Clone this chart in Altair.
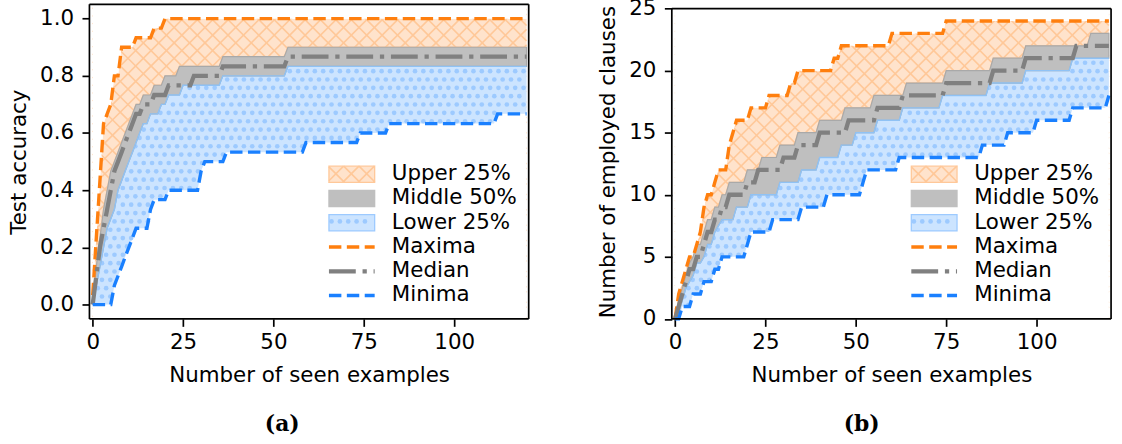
import altair as alt
import numpy as np
import pandas as pd

# number of seen examples
SEEN = np.arange(0, 121)

# ---- test accuracy (fraction of 30 test items) ----
# each series: example counts at which the level changes, and the level reached there
acc_max_at = [0, 1, 2, 3, 4, 5, 6, 8, 12, 17, 20]
acc_max = [0.033, 0.233, 0.433, 0.633, 0.667, 0.7, 0.8, 0.9, 0.933, 0.967, 1.0]
acc_q3_at = [0, 1, 2, 3, 4, 5, 6, 7, 8, 9, 10, 11, 12, 14, 17, 20, 24, 36, 54]
acc_q3 = [0.0, 0.133, 0.233, 0.333, 0.4, 0.467, 0.5, 0.533, 0.567, 0.6, 0.633, 0.667, 0.7,
          0.733, 0.767, 0.8, 0.833, 0.867, 0.9]
acc_med_at = [0, 1, 2, 3, 4, 5, 6, 7, 8, 9, 10, 11, 12, 14, 17, 21, 28, 36, 54]
acc_med = [0.0, 0.1, 0.2, 0.267, 0.333, 0.4, 0.467, 0.5, 0.533, 0.567, 0.6, 0.633, 0.667,
           0.7, 0.733, 0.767, 0.8, 0.833, 0.867]
acc_q1_at = [0, 1, 2, 3, 4, 5, 6, 7, 8, 9, 10, 11, 12, 13, 14, 16, 19, 21, 25, 36, 54]
acc_q1 = [0.0, 0.067, 0.133, 0.2, 0.267, 0.3, 0.333, 0.4, 0.433, 0.467, 0.5, 0.533, 0.567,
          0.6, 0.633, 0.667, 0.7, 0.733, 0.767, 0.8, 0.833]
acc_min_at = [0, 6, 7, 8, 9, 10, 11, 12, 16, 17, 21, 30, 31, 37, 59, 74, 82, 112]
acc_min = [0.0, 0.067, 0.1, 0.133, 0.167, 0.2, 0.233, 0.267, 0.333, 0.367, 0.4, 0.467, 0.5,
           0.533, 0.567, 0.6, 0.633, 0.667]

# ---- number of employed clauses ----
cl_max_at = [0, 1, 2, 3, 4, 6, 7, 8, 9, 11, 12, 15, 16, 17, 21, 26, 32, 34, 44, 46, 60, 75]
cl_max = [0, 2, 3, 4, 5, 6, 7, 9, 10, 11, 12, 14, 15, 16, 17, 18, 19, 20, 21, 22, 23, 24]
cl_q3_at = [0, 1, 2, 3, 4, 5, 6, 8, 9, 11, 13, 15, 20, 24, 29, 34, 40, 47, 55, 64, 75, 88, 97, 115]
cl_q3 = [0, 1.5, 2.5, 3.5, 4.5, 5, 6, 7, 8, 9, 10, 11, 12, 13, 14, 15, 16, 17, 18, 19, 20,
         21, 22, 23]
cl_med_at = [0, 1, 2, 3, 4, 6, 8, 9, 11, 13, 15, 20, 23, 30, 34, 40, 48, 56, 63, 75, 88, 97, 111]
cl_med = [0, 1, 2, 3, 4, 5, 6, 7, 8, 9, 10, 11, 12, 13, 14, 15, 16, 17, 18, 19, 20, 21, 22]
cl_q1_at = [0, 1, 2, 3, 4, 5, 6, 8, 9, 11, 12, 13, 17, 21, 29, 35, 40, 46, 50, 56, 63, 74, 87,
            97, 110]
cl_q1 = [0, 0.5, 1.5, 2.5, 3, 3.5, 4.5, 5, 6, 7, 7.5, 8, 9, 10, 11, 12, 13, 14, 15, 16, 17,
         18, 19, 20, 21]
cl_min_at = [0, 2, 5, 8, 11, 13, 20, 21, 27, 35, 42, 52, 53, 62, 85, 92, 100, 110, 120]
cl_min = [0, 1, 2, 3, 4, 5, 6, 7, 8, 9, 10, 11, 12, 13, 14, 15, 16, 17, 18]

LEGEND_LABELS = ["Upper 25%", "Middle 50%", "Lower 25%", "Maxima", "Median", "Minima"]

# ---- styling ----
FONT = "DejaVu Sans"
FS = 21.5
W, H = 442, 316.5
X_DOMAIN = [-0.9, 120.6]
ORANGE = "#ff7f0e"
BLUE = "#1a80ff"
GRAY = "#808080"
ORANGE_FILL = "#ffe3cc"
ORANGE_HATCH = "#ffc899"
BLUE_FILL = "#cce4ff"
BLUE_DOT = "#9dcaff"
GRAY_FILL = "#bfbfbf"
HATCH_STEP = 15.5
DOT_STEP = 8.4
DASH = [12.5, 5.5]
DASH_DOT = [27, 6.8, 4.3, 6.8]


def level(at, vals):
    idx = np.searchsorted(np.asarray(at), SEEN, side="right") - 1
    return np.asarray(vals, dtype=float)[idx]


def cross_hatch(x0, x1, y0, y1, step):
    """Diagonal cross-hatch segments (screen space) inside a rectangle."""
    segs = []
    for c in np.arange(np.floor((x0 - y1) / step) * step, x1 - y0 + step, step):
        a, b = max(x0, c + y0), min(x1, c + y1)
        if a < b:
            segs.append((a, a - c, b, b - c))
    for c in np.arange(np.floor((x0 + y0) / step) * step, x1 + y1 + step, step):
        a, b = max(x0, c - y1), min(x1, c - y0)
        if a < b:
            segs.append((a, c - a, b, c - b))
    return pd.DataFrame(segs, columns=["hx", "hy", "hx2", "hy2"])


def dot_grid(x0, x1, y0, y1, step):
    pts = []
    for k, yy in enumerate(np.arange(0, y1 + step, step)):
        off = (k % 2) * step / 2
        for xx in np.arange(off, x1 + step, step):
            if x0 <= xx <= x1 and y0 <= yy <= y1:
                pts.append((xx, yy))
    return pd.DataFrame(pts, columns=["dx", "dy"])


def panel(series, ydom, yvalues, yfmt, ytitle, frame_top, caption, cap_dx):
    mx, q3, med, q1, mn = (level(a, v) for a, v in series)
    df = pd.DataFrame({"seen": SEEN, "mx": mx, "q3": q3, "med": med, "q1": q1, "mn": mn})

    span_x = X_DOMAIN[1] - X_DOMAIN[0]
    span_y = ydom[1] - ydom[0]

    def sx(v):
        return (np.asarray(v, float) - X_DOMAIN[0]) / span_x * W

    def sy(v):
        return H * (1 - (np.asarray(v, float) - ydom[0]) / span_y)

    top_px = float(sy(frame_top))
    xl, xr = float(sx(SEEN[0])), float(sx(SEEN[-1]))

    xscale = alt.Scale(domain=X_DOMAIN, nice=False, zero=False)
    yscale = alt.Scale(domain=ydom, nice=False, zero=False)
    X = alt.X("seen:Q", scale=xscale,
              axis=alt.Axis(values=[0, 25, 50, 75, 100], format="d",
                            title="Number of seen examples", labelPadding=5,
                            titlePadding=12, labelFlush=False))

    def Y(f):
        return alt.Y(f + ":Q", scale=yscale,
                     axis=alt.Axis(values=yvalues, format=yfmt, title=ytitle,
                                   labelPadding=8.5, titlePadding=9, labelFlush=False))

    def PX(f):
        return alt.X(f + ":Q", scale=None)

    def PY(f):
        return alt.Y(f + ":Q", scale=None)

    base = alt.Chart(df)

    # upper band: tinted fill with diagonal cross-hatch, trimmed by white covers
    upper = base.mark_area(color=ORANGE_FILL).encode(x=X, y=Y("mx"), y2="q3:Q")
    hatch = alt.Chart(cross_hatch(xl, xr, top_px, H, HATCH_STEP)).mark_rule(
        color=ORANGE_HATCH, strokeWidth=1.6, clip=True
    ).encode(x=PX("hx"), y=PY("hy"), x2="hx2:Q", y2="hy2:Q")
    cover_top = base.mark_area(color="white").encode(
        x=X, y=Y("mx"), y2=alt.datum(ydom[1]))
    cover_low = base.mark_area(color="white").encode(
        x=X, y=Y("q3"), y2=alt.datum(ydom[0]))
    upper_edge = base.mark_line(color=ORANGE_HATCH, strokeWidth=1.4).encode(x=X, y=Y("q3"))

    # lower band: tinted fill with a staggered dot pattern
    lower = base.mark_area(color=BLUE_FILL).encode(x=X, y=Y("q1"), y2="mn:Q")
    dots = dot_grid(xl, xr, top_px, H, DOT_STEP)
    xd = X_DOMAIN[0] + dots["dx"] / W * span_x
    hi = sy(np.interp(xd, SEEN, q1))
    lo = sy(np.interp(xd, SEEN, mn))
    dots = dots[(dots["dy"] > hi + 1.5) & (dots["dy"] < lo - 1.5)]
    dot_layer = alt.Chart(dots).mark_circle(color=BLUE_DOT, size=22, opacity=1).encode(
        x=PX("dx"), y=PY("dy"))

    middle = base.mark_area(color=GRAY_FILL, stroke="#a9a9a9", strokeWidth=1.2).encode(
        x=X, y=Y("q3"), y2="q1:Q")
    lower_edge = base.mark_line(color="#8fc2f5", strokeWidth=1.4).encode(x=X, y=Y("q1"))

    line_max = base.mark_line(color=ORANGE, strokeWidth=3.4, strokeDash=DASH).encode(
        x=X, y=Y("mx"))
    line_med = base.mark_line(color=GRAY, strokeWidth=4.3, strokeDash=DASH_DOT).encode(
        x=X, y=Y("med"))
    line_min = base.mark_line(color=BLUE, strokeWidth=3.4, strokeDash=DASH).encode(
        x=X, y=Y("mn"))

    one = pd.DataFrame({"k": [0]})
    frame = [
        alt.Chart(one).mark_rule(color="black", strokeWidth=1.7).encode(
            x=alt.value(0), x2=alt.value(W), y=alt.value(top_px)),
        alt.Chart(one).mark_rule(color="black", strokeWidth=1.7).encode(
            x=alt.value(0), x2=alt.value(W), y=alt.value(H)),
        alt.Chart(one).mark_rule(color="black", strokeWidth=1.7).encode(
            x=alt.value(0), y=alt.value(top_px), y2=alt.value(H)),
        alt.Chart(one).mark_rule(color="black", strokeWidth=1.7).encode(
            x=alt.value(W), y=alt.value(top_px), y2=alt.value(H)),
    ]

    # legend, anchored to the lower-right corner of the plot
    row_y = [H - 23.5 - 24.4 * (5 - i) for i in range(6)]
    hx0, hx1 = W - 201, W - 155
    legend = []
    for i, (fill, edge) in enumerate([(ORANGE_FILL, ORANGE_HATCH), (GRAY_FILL, GRAY_FILL),
                                      (BLUE_FILL, BLUE_DOT)]):
        y0, y1 = row_y[i] - 8.2, row_y[i] + 8.2
        legend.append(alt.Chart(one).mark_rect(color=fill).encode(
            x=alt.value(hx0), x2=alt.value(hx1), y=alt.value(y0), y2=alt.value(y1)))
        if i == 0:
            legend.append(alt.Chart(cross_hatch(hx0, hx1, y0, y1, HATCH_STEP)).mark_rule(
                color=ORANGE_HATCH, strokeWidth=1.6).encode(
                x=PX("hx"), y=PY("hy"), x2="hx2:Q", y2="hy2:Q"))
        if i == 2:
            pd_dots = dot_grid(hx0 + 2, hx1 - 2, y0 + 2, y1 - 2, DOT_STEP)
            legend.append(alt.Chart(pd_dots).mark_circle(color=BLUE_DOT, size=22,
                                                         opacity=1).encode(
                x=PX("dx"), y=PY("dy")))
        legend.append(alt.Chart(one).mark_rect(fill=None, stroke=edge, strokeWidth=1.3).encode(
            x=alt.value(hx0), x2=alt.value(hx1), y=alt.value(y0), y2=alt.value(y1)))
    for i, (col, sw, dash) in zip([3, 4, 5], [(ORANGE, 3.4, DASH), (GRAY, 4.3, DASH_DOT),
                                              (BLUE, 3.4, DASH)]):
        legend.append(alt.Chart(one).mark_rule(color=col, strokeWidth=sw, strokeDash=dash).encode(
            x=alt.value(hx0), x2=alt.value(hx1), y=alt.value(row_y[i])))
    text_df = pd.DataFrame({"tx": [W - 137.7] * 6, "ty": row_y, "label": LEGEND_LABELS})
    legend.append(alt.Chart(text_df).mark_text(
        align="left", baseline="middle", font=FONT, fontSize=FS, color="black").encode(
        x=PX("tx"), y=PY("ty"), text="label:N"))

    layers = [upper, hatch, cover_top, cover_low, upper_edge, lower, dot_layer, middle,
              lower_edge, line_max, line_med, line_min] + frame + legend
    return alt.layer(*layers).properties(
        width=W, height=H,
        title=alt.TitleParams(caption, orient="bottom", anchor="middle", font="DejaVu Serif",
                              fontWeight="bold", fontSize=22, color="black", dx=cap_dx,
                              offset=28),
    )


left = panel(
    [(acc_max_at, acc_max), (acc_q3_at, acc_q3), (acc_med_at, acc_med),
     (acc_q1_at, acc_q1), (acc_min_at, acc_min)],
    ydom=[-0.05, 1.05], yvalues=[0, 0.2, 0.4, 0.6, 0.8, 1.0], yfmt=".1f",
    ytitle="Test accuracy", frame_top=1.05, caption="(a)", cap_dx=-27,
)
right = panel(
    [(cl_max_at, cl_max), (cl_q3_at, cl_q3), (cl_med_at, cl_med),
     (cl_q1_at, cl_q1), (cl_min_at, cl_min)],
    ydom=[0, 25.34], yvalues=[0, 5, 10, 15, 20, 25], yfmt="d",
    ytitle="Number of employed clauses", frame_top=25, caption="(b)", cap_dx=-30,
)

chart = (
    alt.hconcat(left, right, spacing=144, bounds="flush")
    .properties(padding={"left": 8, "top": -4, "right": 4, "bottom": 4})
    .configure_axis(
        labelFont=FONT, titleFont=FONT, labelFontSize=FS, titleFontSize=FS,
        labelColor="black", titleColor="black", titleFontWeight="normal",
        tickColor="black", tickWidth=1.7, tickSize=7.5, domain=False, grid=False,
    )
    .configure_view(stroke=None)
)

chart.save("out.html", embed_options={"renderer": "svg", "actions": False})
